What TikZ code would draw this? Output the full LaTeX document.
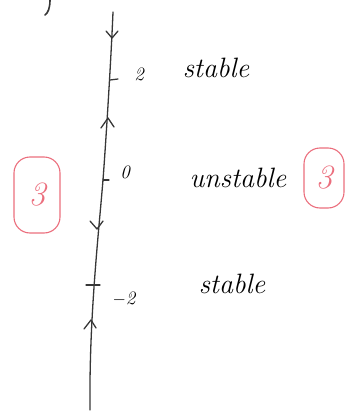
\documentclass[tikz,border=0pt]{standalone}
\usepackage{fontspec}
\setmainfont{Latin Modern Roman}
\usetikzlibrary{calc}
\definecolor{ink}{RGB}{55,55,55}
\definecolor{pen}{RGB}{235,110,125}
\tikzset{
  axisline/.style={draw=ink, line width=1.3pt, line cap=round, line join=round},
  chev/.style={draw=ink, line width=1.3pt, line cap=round, line join=round},
  lbl/.style={text=black, inner sep=0pt, font=\fontsize{28}{30}\selectfont\itshape},
  small/.style={text=black, inner sep=0pt, font=\fontsize{19}{20}\selectfont\itshape},
  redbox/.style={draw=pen, line width=1.1pt, rounded corners=16pt, text=pen, font=\fontsize{34}{36}\selectfont\itshape, inner sep=0pt}
}
\begin{document}
\begin{tikzpicture}[x=1pt,y=-1pt]
\useasboundingbox (0,0) rectangle (346,412);
% main phase line
\coordinate (top) at (113,12);
\coordinate (p2) at (110,80);
\coordinate (p0) at (103,180);
\coordinate (pm2) at (93,285);
\coordinate (bot) at (90,410);
\draw[axisline] (top) .. controls (111,60) and (106,140) .. (p0) .. controls (98,240) and (89,320) .. (bot);
% ticks
\draw[chev] (p2) -- ++(8,-1);
\draw[chev] (p0) -- ++(6,0);
\draw[chev] ($(pm2)+(-7,0)$) -- ++(14,0);
% arrow chevrons
\coordinate (a1) at (112,38);
\coordinate (a2) at (108,118);
\coordinate (a3) at (97,229);
\coordinate (a4) at (91,320);
\draw[chev] ($(a1)+(-6,-7)$) -- (a1) -- ($(a1)+(6,-7)$);
\draw[chev] ($(a2)+(-7,10)$) -- (a2) -- ($(a2)+(6,9)$);
\draw[chev] ($(a3)+(-7,-8)$) -- (a3) -- ($(a3)+(6,-8)$);
\draw[chev] ($(a4)+(-7,9)$) -- (a4) -- ($(a4)+(5,8)$);
% labels
\node[small] (l2) at (139,74) {2};
\node[small] (l0) at (125,172) {0};
\node[small] (lm2) at (124,299) {$-$2};
\node[lbl] (s1) at (216,68) {stable};
\node[lbl] (u) at (238,178) {unstable};
\node[lbl] (s2) at (232,284) {stable};
% red boxed 3s
\node[redbox, minimum width=46pt, minimum height=76pt] (b1) at (37,195) {3};
\node[redbox, minimum width=40pt, minimum height=60pt] (b2) at (324,178) {3};
% stray stroke top-left
\draw[chev, line width=1.6pt] (50,0) .. controls (50,8) and (48,13) .. (45,15);
\end{tikzpicture}
\end{document}
